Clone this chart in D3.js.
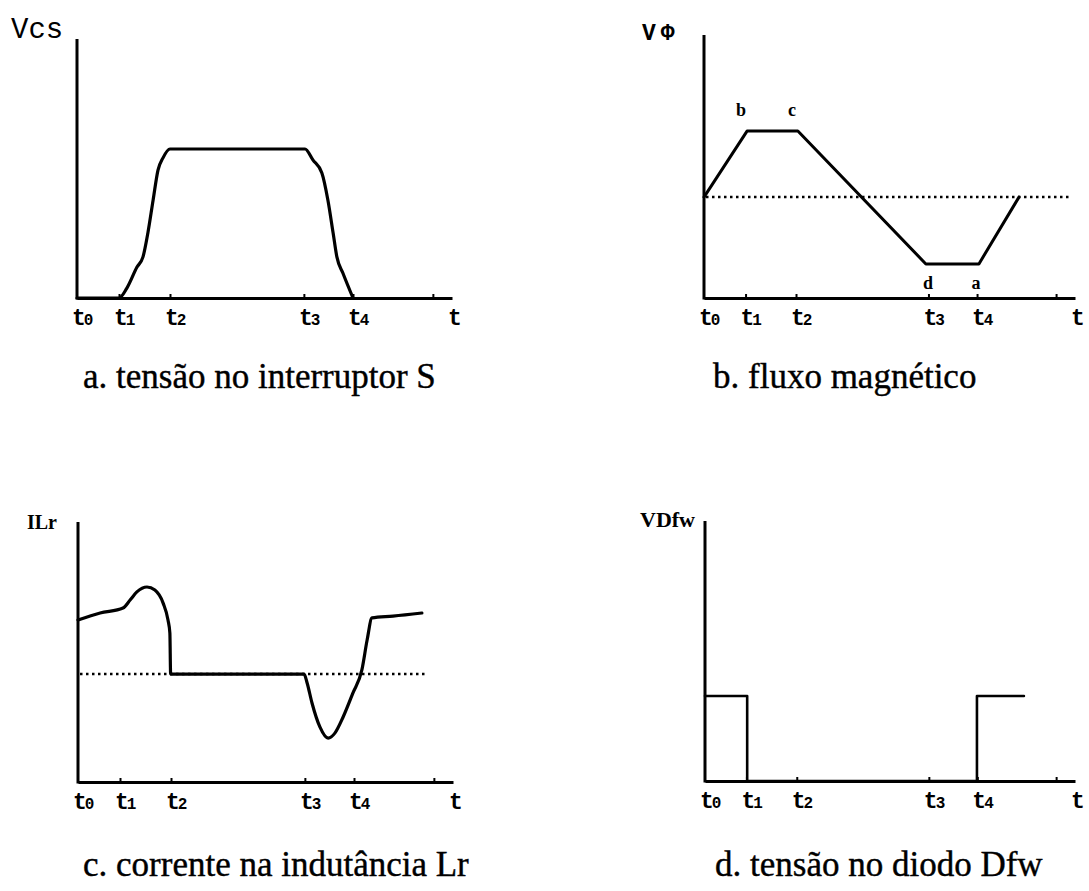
<!DOCTYPE html>
<html>
<head>
<meta charset="utf-8">
<script src="https://cdn.jsdelivr.net/npm/d3@7"></script>
<style>
  body { margin: 0; background: #fff; }
  svg { display: block; }
</style>
</head>
<body>
<svg id="fig" width="1089" height="891"></svg>
<script>
// Time instants marked on every horizontal axis (normalised time units, 0..10)
const tickNames = ["t0", "t1", "t2", "t3", "t4"];
const tickTimes = [0, 1.12, 2.48, 6.05, 7.36];
const endTickTime = 9.49;

// a. voltage across switch S  [time, value]
const vcsSeries = [
  [0, 0], [1.12, 0], [1.33, 0.38], [1.60, 1.19], [1.76, 1.58], [1.89, 2.5],
  [2.03, 3.77], [2.16, 4.92], [2.29, 5.38], [2.48, 5.73], [6.08, 5.73],
  [6.29, 5.31], [6.53, 4.81], [6.69, 3.77], [6.83, 2.5], [6.93, 1.58],
  [7.09, 0.96], [7.36, 0]
];

// b. magnetic flux
const fluxSeries = [
  [0, 3.88], [1.16, 6.42], [2.53, 6.42], [5.98, 1.31], [7.41, 1.31], [8.49, 3.88]
];
const fluxZero = 3.88;
const fluxZeroEnd = 9.87;
const fluxPointNames = ["b", "c", "d", "a"];
const fluxPointPos = [[1.0, 7.23], [2.37, 7.23], [6.04, 0.58], [7.33, 0.58]];

// c. current in inductance Lr
const ilrSeries = [
  [0, 6.23], [0.59, 6.5], [1.2, 6.69], [1.39, 7.0], [1.57, 7.31], [1.84, 7.5],
  [2.05, 7.38], [2.27, 6.88], [2.40, 6.23], [2.45, 5.73], [2.47, 4.15],
  [6.03, 4.15], [6.11, 3.81], [6.24, 3.04], [6.45, 2.12], [6.67, 1.69],
  [6.85, 1.88], [7.07, 2.5], [7.33, 3.42], [7.57, 4.31], [7.71, 5.46],
  [7.84, 6.31], [8.4, 6.38], [9.17, 6.5]
];
const ilrZero = 4.15;
const ilrZeroEnd = 9.33;

// d. voltage across diode Dfw
const vdfwSeries = [
  [0, 3.27], [1.14, 3.27], [1.14, 0], [7.35, 0], [7.35, 3.27], [8.62, 3.27]
];

// panel frames
const panels = [
  { key: "a", left: 77,  bottom: 298, width: 375, top: 39,
    yName: "Vcs", yNameStyle: { x: 11, y: 38, font: "'Liberation Mono', monospace", size: 29, weight: "normal", spacing: 0 },
    caption: "a. tensão no interruptor S", capX: 83, capY: 388 },
  { key: "b", left: 704, bottom: 298, width: 371, top: 35,
    yName: "V\u03A6", yNameStyle: { x: 642, y: 40, font: "'Liberation Mono', monospace", size: 23, weight: "bold", spacing: 5 },
    caption: "b. fluxo magnético", capX: 713, capY: 388 },
  { key: "c", left: 78,  bottom: 782, width: 375, top: 522,
    yName: "ILr", yNameStyle: { x: 27, y: 529, font: "'Liberation Serif', serif", size: 20, weight: "bold", spacing: 0 },
    caption: "c. corrente na indutância Lr", capX: 83, capY: 876 },
  { key: "d", left: 705, bottom: 781, width: 370, top: 521,
    yName: "VDfw", yNameStyle: { x: 640, y: 527, font: "'Liberation Serif', serif", size: 22, weight: "bold", spacing: 0 },
    caption: "d. tensão no diodo Dfw", capX: 715, capY: 876 }
];

const svg = d3.select("#fig");
svg.append("rect").attr("width", 1089).attr("height", 891).attr("fill", "#fff");

function setup(p) {
  const x = d3.scaleLinear().domain([0, 10]).range([p.left, p.left + p.width]);
  const y = d3.scaleLinear().domain([0, 10]).range([p.bottom, p.bottom - 260]);
  const g = svg.append("g").attr("class", "panel-" + p.key);

  // horizontal axis with small upward tick marks
  const xAxis = d3.axisBottom(x)
    .tickValues(tickTimes.slice(1).concat([endTickTime]))
    .tickSizeInner(-4).tickSizeOuter(0).tickFormat("");
  const ax = g.append("g").attr("transform", `translate(0,${p.bottom})`).call(xAxis);
  ax.select(".domain").attr("stroke", "#000").attr("stroke-width", 3);
  ax.selectAll(".tick line").attr("stroke", "#000").attr("stroke-width", 2);

  // vertical axis
  g.append("line")
    .attr("x1", p.left).attr("x2", p.left)
    .attr("y1", p.bottom + 1.5).attr("y2", p.top)
    .attr("stroke", "#000").attr("stroke-width", 3);

  // time labels t0..t4 and t
  tickNames.forEach((name, i) => {
    const t = g.append("text")
      .attr("x", x(tickTimes[i]) - 5).attr("y", p.bottom + 27)
      .attr("font-family", "'Liberation Mono', monospace")
      .attr("font-weight", "bold").attr("fill", "#000");
    t.append("tspan").attr("font-size", 23).text(name[0]);
    t.append("tspan").attr("font-size", 16).attr("dx", -2).text(name.slice(1));
  });
  g.append("text")
    .attr("x", x(10) - 4).attr("y", p.bottom + 27)
    .attr("font-family", "'Liberation Mono', monospace")
    .attr("font-weight", "bold").attr("font-size", 23).attr("fill", "#000")
    .text("t");

  // axis name
  const s = p.yNameStyle;
  g.append("text").attr("x", s.x).attr("y", s.y)
    .attr("font-family", s.font).attr("font-size", s.size)
    .attr("font-weight", s.weight).attr("fill", "#000")
    .attr("letter-spacing", s.spacing)
    .text(p.yName);

  // caption
  g.append("text").attr("x", p.capX).attr("y", p.capY)
    .attr("font-family", "'Liberation Serif', 'Times New Roman', serif")
    .attr("font-size", 35).attr("fill", "#000")
    .attr("stroke", "#000").attr("stroke-width", 0.4)
    .text(p.caption);

  return { x, y, g };
}

function drawSeries(ctx, data, curve, width) {
  const line = d3.line().x(d => ctx.x(d[0])).y(d => ctx.y(d[1])).curve(curve);
  ctx.g.append("path").datum(data).attr("d", line)
    .attr("fill", "none").attr("stroke", "#000")
    .attr("stroke-width", width).attr("stroke-linejoin", "round")
    .attr("stroke-linecap", "round");
}

function drawZero(ctx, level, endTime) {
  ctx.g.append("line")
    .attr("x1", ctx.x(0) + 2).attr("x2", ctx.x(endTime))
    .attr("y1", ctx.y(level)).attr("y2", ctx.y(level))
    .attr("stroke", "#000").attr("stroke-width", 2.5)
    .attr("stroke-dasharray", "2.5,3.5");
}

const ca = setup(panels[0]);
drawSeries(ca, vcsSeries, d3.curveMonotoneX, 3.2);

const cb = setup(panels[1]);
drawZero(cb, fluxZero, fluxZeroEnd);
drawSeries(cb, fluxSeries, d3.curveLinear, 3);
fluxPointNames.forEach((n, i) => {
  cb.g.append("text")
    .attr("x", cb.x(fluxPointPos[i][0])).attr("y", cb.y(fluxPointPos[i][1]) + 6)
    .attr("text-anchor", "middle")
    .attr("font-family", "'Liberation Serif', serif")
    .attr("font-weight", "bold").attr("font-size", 18).attr("fill", "#000")
    .text(n);
});

const cc = setup(panels[2]);
drawZero(cc, ilrZero, ilrZeroEnd);
drawSeries(cc, ilrSeries, d3.curveMonotoneX, 3.2);

const cd = setup(panels[3]);
drawSeries(cd, vdfwSeries, d3.curveLinear, 2.6);
</script>
</body>
</html>
